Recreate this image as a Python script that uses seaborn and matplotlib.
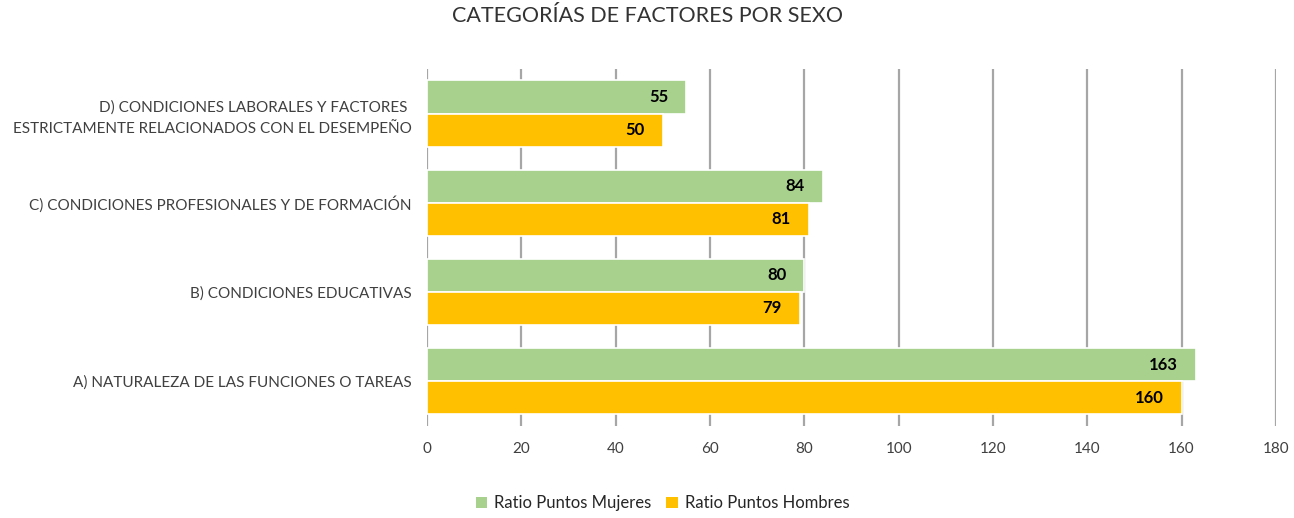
import matplotlib
matplotlib.use("Agg")
import matplotlib.pyplot as plt
from matplotlib.patches import Patch
import seaborn as sns
import pandas as pd

categories = [
    "D) CONDICIONES LABORALES Y FACTORES \nESTRICTAMENTE RELACIONADOS CON EL DESEMPEÑO",
    "C) CONDICIONES PROFESIONALES Y DE FORMACIÓN",
    "B) CONDICIONES EDUCATIVAS",
    "A) NATURALEZA DE LAS FUNCIONES O TAREAS",
]
series_names = ["Ratio Puntos Mujeres", "Ratio Puntos Hombres"]
mujeres = [55, 84, 80, 163]
hombres = [50, 81, 79, 160]
colors = ["#A9D18E", "#FFC000"]
xticks = [0, 20, 40, 60, 80, 100, 120, 140, 160, 180]
title = "CATEGORÍAS DE FACTORES POR SEXO"

df = pd.DataFrame({
    "cat": categories * 2,
    "serie": [series_names[0]] * 4 + [series_names[1]] * 4,
    "val": mujeres + hombres,
})

sns.set_theme(style="white")
plt.rcParams["font.family"] = ["Lato", "DejaVu Sans"]

fig = plt.figure(figsize=(12.94, 5.18), dpi=100)
ax = fig.add_axes([0.33, 0.178, 0.656, 0.689])

sns.barplot(data=df, y="cat", x="val", hue="serie", order=categories,
            hue_order=series_names, palette=colors, saturation=1, orient="h",
            width=0.74, edgecolor="white", linewidth=1.2, ax=ax, legend=False,
            zorder=3)

ax.set_xlim(0, 180)
ax.set_xticks(xticks)
ax.set_xticklabels([str(t) for t in xticks], fontsize=11, color="#404040")
ax.set_ylabel("")
ax.set_xlabel("")
ax.tick_params(axis="x", length=0, pad=12)
ax.tick_params(axis="y", length=0, pad=11)
for lab in ax.get_yticklabels():
    lab.set_fontsize(11)
    lab.set_color("#404040")
    lab.set_horizontalalignment("right")
    lab.set_linespacing(1.65)
for s in ax.spines.values():
    s.set_visible(False)
ax.grid(axis="x", color="#A6A6A6", linewidth=1.6, zorder=0)
ax.grid(axis="y", visible=False)
ax.set_axisbelow(True)

for p in ax.patches:
    w = p.get_width()
    if w <= 0:
        continue
    ax.annotate(f"{w:.0f}", xy=(w, p.get_y() + p.get_height() / 2),
                xytext=(-13, 0), textcoords="offset points",
                ha="right", va="center", fontsize=12, fontweight="bold",
                color="black", zorder=5)

fig.suptitle(title, y=0.988, fontsize=15.5, color="#333333",
             fontweight="normal", x=0.50)

handles = [Patch(facecolor=c, edgecolor="none") for c in colors]
fig.legend(handles, series_names, loc="center", bbox_to_anchor=(0.512, 0.028),
           ncol=2, frameon=False, fontsize=12, handlelength=0.7,
           handleheight=0.7, handletextpad=0.4, columnspacing=0.9,
           labelcolor="#262626")

fig.savefig("out.png", dpi=100, facecolor="white")
